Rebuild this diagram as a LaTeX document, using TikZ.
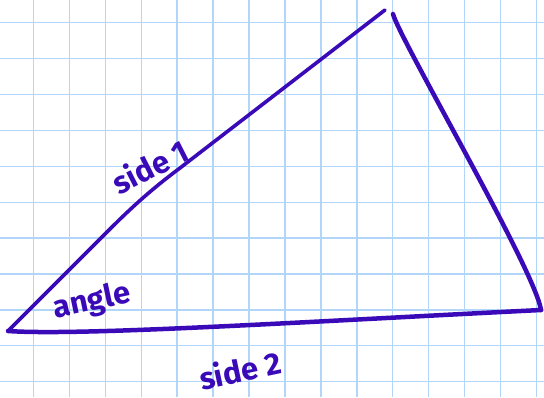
\documentclass[tikz,border=0pt]{standalone}
\usepackage{fontspec}
\setmainfont{Fira Sans}
\definecolor{ink}{RGB}{58,10,185}
\definecolor{gridblue}{RGB}{178,214,250}
\begin{document}
\begin{tikzpicture}[x=1pt,y=-1pt,
  gridline/.style={draw=gridblue,line width=1.3pt},
  sideline/.style={draw=ink,line width=4.5pt,line cap=round,line join=round},
  thinside/.style={draw=ink,line width=3.6pt,line cap=round,line join=round},
  hand/.style={text=ink,font=\fontsize{31}{32}\selectfont\bfseries,inner sep=0pt}]
\fill[white] (0,0) rectangle (544,397);
\useasboundingbox (0,0) rectangle (544,397);
% grid
\foreach \k in {0,...,14}{
  \draw[gridline] ({33.3+35.95*\k},0) -- ({33.3+35.95*\k},397);
}
\foreach \k in {0,...,10}{
  \draw[gridline] (0,{22.7+35.9*\k}) -- (544,{22.7+35.9*\k});
}
% vertices
\coordinate (A) at (8,331);
\coordinate (B1) at (385,10);
\coordinate (B2) at (393,14);
\coordinate (C) at (541,310);
\coordinate (K1) at (110,229);
\coordinate (K2) at (180,168);
% sides
\draw[thinside] (A) -- (K1) .. controls (140,199) and (160,183) .. (K2) -- (B1);
\draw[sideline] (B2) .. controls (400,40) and (535,270) .. (C);
\draw[sideline] (A) .. controls (80,336) and (300,322) .. (C);
% labels
\node[hand,rotate=27] (s1) at (150,166) {side 1};
\node[hand,rotate=12] (ang) at (92,302) {angle};
\node[hand,rotate=12] (s2) at (240,370) {side 2};
\end{tikzpicture}
\end{document}
